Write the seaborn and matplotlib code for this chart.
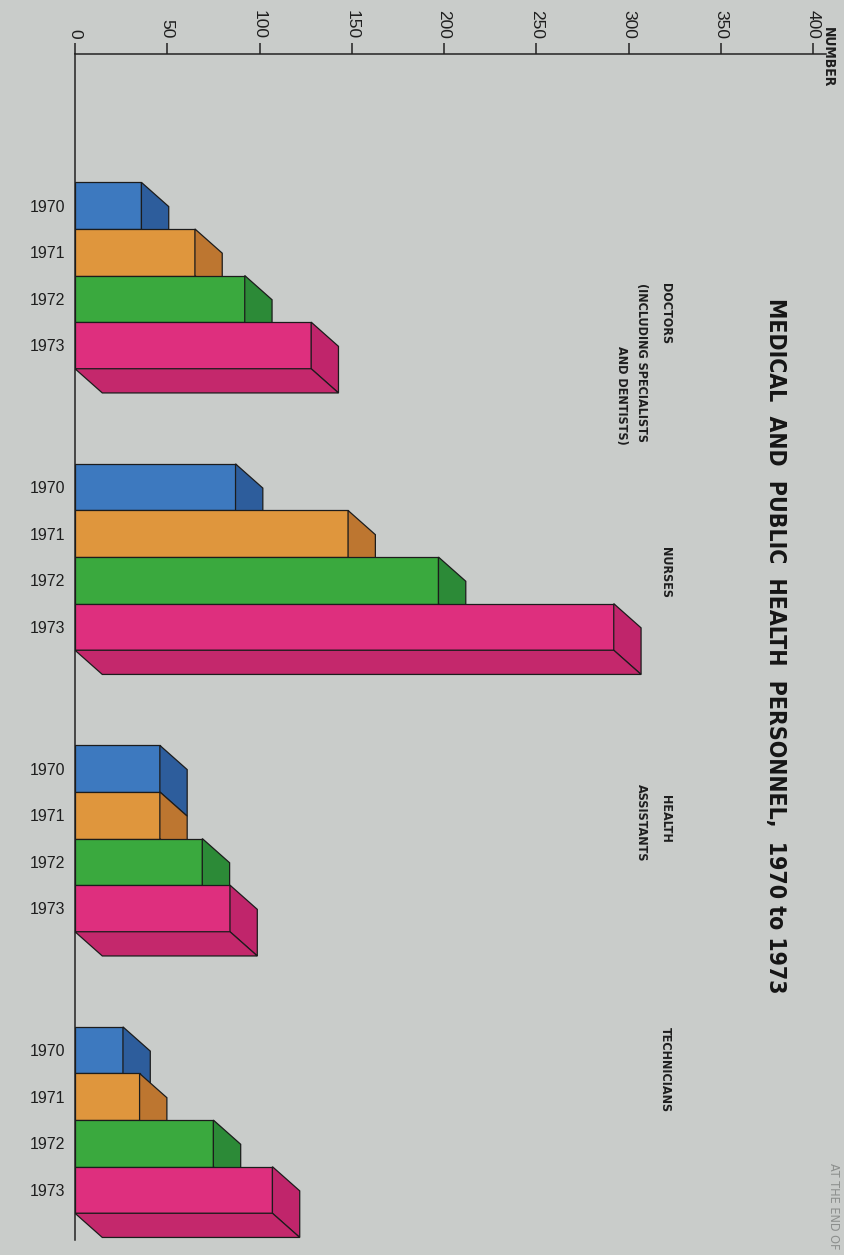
import numpy as np
import pandas as pd
import matplotlib.pyplot as plt
import seaborn as sns
from matplotlib.patches import Polygon

### DATOS ###
categorias = ['DOCTORS', 'NURSES', 'HEALTH ASSISTANTS', 'TECHNICIANS']
anios = ['1970', '1971', '1972', '1973']
v1970 = [36, 87, 46, 26]
v1971 = [65, 148, 46, 35]
v1972 = [92, 197, 69, 75]
v1973 = [128, 292, 84, 107]
marcas = [0, 50, 100, 150, 200, 250, 300, 350, 400]
etiquetas_marcas = ['0', '50', '100', '150', '200', '250', '300', '350', '400']

df = pd.DataFrame({
    'categoria': categorias * 4,
    'anio': [a for a in anios for _ in categorias],
    'valor': v1970 + v1971 + v1972 + v1973,
})

### ESTILO ###
fondo = '#c9ccca'
frente = ['#3d79bf', '#df963d', '#3aa93e', '#de2f7e']
lado = ['#2d5d9c', '#bd7630', '#2c8a37', '#c0256b']
borde = '#1c1c1c'
fuente_titulo = ['DejaVu Sans']
fuente_texto = ['Liberation Sans', 'DejaVu Sans']

sns.set_style('white')
plt.rcParams['font.family'] = fuente_texto

fig = plt.figure(figsize=(8.45, 12.55), dpi=100, facecolor=fondo)
ax = fig.add_axes([75 / 845, 1 - 1240 / 1255, 765.7 / 845, (1240 - 54) / 1255])
ax.set_facecolor(fondo)

sns.barplot(data=df, x='valor', y='categoria', hue='anio', orient='h',
            order=categorias, hue_order=anios, palette=frente, width=0.662,
            edgecolor=borde, linewidth=0.9, saturation=1, legend=False, ax=ax)

ax.set_xlim(0, 415)
ax.set_ylim(3.426, -0.787)

### CARAS 3D ###
dx = 14.8   # profundidad en unidades del eje x
dy = 0.086  # profundidad en unidades de categoria
barras = sorted(ax.patches, key=lambda p: p.get_y())
centros = []
for i, p in enumerate(barras):
    k = i % 4
    v = p.get_width()
    y0 = p.get_y()
    y1 = y0 + p.get_height()
    centros.append(y0 + p.get_height() / 2)
    p.set_zorder(3 + k)
    cara = Polygon([(v, y0), (v + dx, y0 + dy), (v + dx, y1 + dy), (v, y1)],
                   closed=True, facecolor=lado[k], edgecolor=borde,
                   linewidth=0.9, zorder=3 + k)
    ax.add_patch(cara)
    if k == 3:
        base = Polygon([(0, y1), (dx, y1 + dy), (v + dx, y1 + dy), (v, y1)],
                       closed=True, facecolor='#c4286c', edgecolor=borde,
                       linewidth=0.9, zorder=3 + k)
        ax.add_patch(base)

### EJES ###
for s in ['right', 'bottom']:
    ax.spines[s].set_visible(False)
ax.spines['top'].set_bounds(0, 407)
ax.spines['top'].set_color('#222222')
ax.spines['left'].set_color('#222222')
ax.spines['top'].set_linewidth(1.1)
ax.spines['left'].set_linewidth(1.1)

ax.xaxis.tick_top()
ax.set_xticks(marcas)
ax.set_xticklabels(etiquetas_marcas, rotation=-90, fontsize=12.5)
ax.tick_params(axis='x', direction='out', length=8, width=1.1,
               color='#222222', pad=3, labelcolor='#1e1e1e')

ax.set_yticks(centros)
ax.set_yticklabels(anios * 4, fontsize=11.5)
ax.tick_params(axis='y', length=0, pad=7, labelcolor='#1e1e1e')
ax.set_xlabel('')
ax.set_ylabel('')

### TEXTOS ###
kw = dict(rotation=-90, fontsize=9, fontweight='bold', family=fuente_titulo,
          fontstretch='condensed', color='#1e1e1e')
ax.text(320, 0.027, 'DOCTORS', ha='center', va='top', **kw)
ax.text(307, 0.027, '(INCLUDING SPECIALISTS', ha='center', va='top', **kw)
ax.text(296, 0.602, 'AND DENTISTS)', ha='center', va='bottom', **kw)
ax.text(320, 1.055, 'NURSES', ha='center', va='center', **kw)
ax.text(320, 1.93, 'HEALTH', ha='center', va='center', **kw)
ax.text(307, 1.945, 'ASSISTANTS', ha='center', va='center', **kw)
ax.text(320, 2.82, 'TECHNICIANS', ha='center', va='center', **kw)

fig.text(776 / 845, 1 - 646 / 1255,
         'MEDICAL  AND  PUBLIC  HEALTH  PERSONNEL,  1970 to 1973',
         rotation=-90, ha='center', va='center', fontsize=16.5,
         fontweight='bold', family=fuente_titulo, fontstretch='condensed',
         color='#151515')
fig.text(828 / 845, 1 - 27 / 1255, 'NUMBER', rotation=-90, ha='center',
         va='top', fontsize=10, fontweight='bold', family=fuente_titulo,
         fontstretch='condensed', color='#1e1e1e')
fig.text(834 / 845, 1 - 1163 / 1255, 'AT THE END OF', rotation=-90,
         ha='center', va='top', fontsize=9, family=fuente_titulo,
         fontstretch='condensed', color='#8c8f8d')

fig.savefig('out.png', dpi=100, facecolor=fondo)
